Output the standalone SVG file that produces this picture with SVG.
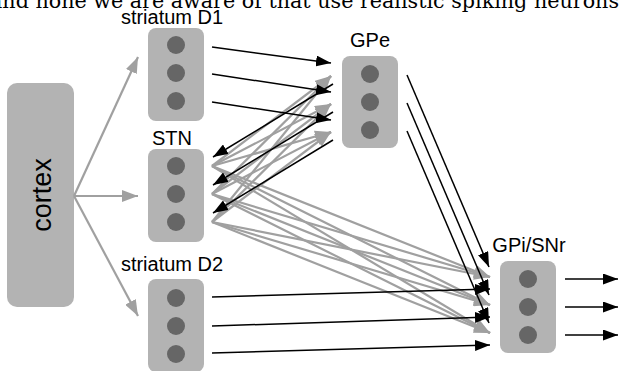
<svg xmlns="http://www.w3.org/2000/svg" width="619" height="371" viewBox="0 0 619 371">
<style>
.box{fill:#b3b3b3}
.dot{fill:#666666}
.lbl{font-family:"Liberation Sans",Arial,sans-serif;font-size:20px;fill:#000;text-anchor:middle}
.g{stroke:#a0a0a0;stroke-width:2.2;fill:none;marker-end:url(#ag)}
.b{stroke:#000;stroke-width:1.5;fill:none;marker-end:url(#ab)}
</style>
<defs>
<marker id="ab" markerUnits="userSpaceOnUse" markerWidth="15" markerHeight="11" refX="15" refY="5.5" orient="auto"><path d="M0,0 L15,5.5 L0,11 z" fill="#000"/></marker>
<marker id="ag" markerUnits="userSpaceOnUse" markerWidth="16" markerHeight="12" refX="16" refY="6" orient="auto"><path d="M0,0 L16,6 L0,12 z" fill="#a0a0a0"/></marker>
</defs>
<rect width="619" height="371" fill="#fff"/>
<text x="-10" y="8" font-family="'DejaVu Serif',serif" font-size="21" textLength="629" lengthAdjust="spacingAndGlyphs">and none we are aware of that use realistic spiking neurons</text>
<g id="cortex">
<rect class="box" x="7" y="83" width="67" height="224" rx="10"/>
<text transform="translate(51,195) rotate(-90)" font-family="'Liberation Sans',Arial,sans-serif" font-size="27" text-anchor="middle">cortex</text>
</g>
<g id="striatumD1">
<text class="lbl" x="172" y="24">striatum D1</text>
<rect class="box" x="148" y="28" width="56" height="93" rx="8"/>
<circle class="dot" cx="176" cy="45" r="9"/><circle class="dot" cx="176" cy="73" r="9"/><circle class="dot" cx="176" cy="101" r="9"/>
</g>
<g id="STN">
<text class="lbl" x="172" y="145">STN</text>
<rect class="box" x="148" y="149" width="56" height="93" rx="8"/>
<circle class="dot" cx="176" cy="166" r="9"/><circle class="dot" cx="176" cy="194" r="9"/><circle class="dot" cx="176" cy="222" r="9"/>
</g>
<g id="striatumD2">
<text class="lbl" x="172" y="271">striatum D2</text>
<rect class="box" x="148" y="279" width="56" height="93" rx="8"/>
<circle class="dot" cx="176" cy="298" r="9"/><circle class="dot" cx="176" cy="326" r="9"/><circle class="dot" cx="176" cy="354" r="9"/>
</g>
<g id="GPe">
<text class="lbl" x="370" y="47">GPe</text>
<rect class="box" x="342" y="56" width="56" height="92" rx="8"/>
<circle class="dot" cx="370" cy="74" r="9"/><circle class="dot" cx="370" cy="102" r="9"/><circle class="dot" cx="370" cy="130" r="9"/>
</g>
<g id="GPiSNr">
<text class="lbl" x="529" y="252">GPi/SNr</text>
<rect class="box" x="500" y="261" width="56" height="92" rx="8"/>
<circle class="dot" cx="528" cy="279" r="9"/><circle class="dot" cx="528" cy="307" r="9"/><circle class="dot" cx="528" cy="335" r="9"/>
</g>
<g id="connectors">
<path class="g" d="M74,196 L138,57"/>
<path class="g" d="M74,196 L138,196"/>
<path class="g" d="M74,196 L138,316"/>
<path class="g" d="M212,166 L331,76"/><path class="g" d="M212,166 L331,104"/><path class="g" d="M212,166 L331,132"/>
<path class="g" d="M212,194 L331,76"/><path class="g" d="M212,194 L331,104"/><path class="g" d="M212,194 L331,132"/>
<path class="g" d="M212,222 L331,76"/><path class="g" d="M212,222 L331,104"/><path class="g" d="M212,222 L331,132"/>
<path class="g" d="M212,166 L490,277"/><path class="g" d="M212,166 L490,305"/><path class="g" d="M212,166 L490,333"/>
<path class="g" d="M212,194 L490,277"/><path class="g" d="M212,194 L490,305"/><path class="g" d="M212,194 L490,333"/>
<path class="g" d="M212,222 L490,277"/><path class="g" d="M212,222 L490,305"/><path class="g" d="M212,222 L490,333"/>
<path class="b" d="M212,47 L331,63"/><path class="b" d="M212,74 L331,92"/><path class="b" d="M212,102 L331,120"/>
<path class="b" d="M333,84 L213,157"/><path class="b" d="M333,112 L213,185"/><path class="b" d="M333,140 L213,213"/>
<path class="b" d="M407,75 L489,267"/><path class="b" d="M407,103 L489,295"/><path class="b" d="M407,131 L489,323"/>
<path class="b" d="M212,297 L490,289"/><path class="b" d="M212,326 L490,317"/><path class="b" d="M212,353 L490,345"/>
<path class="b" d="M565,279 L618,279"/><path class="b" d="M565,307 L618,307"/><path class="b" d="M565,335 L618,335"/>
</g>
</svg>
